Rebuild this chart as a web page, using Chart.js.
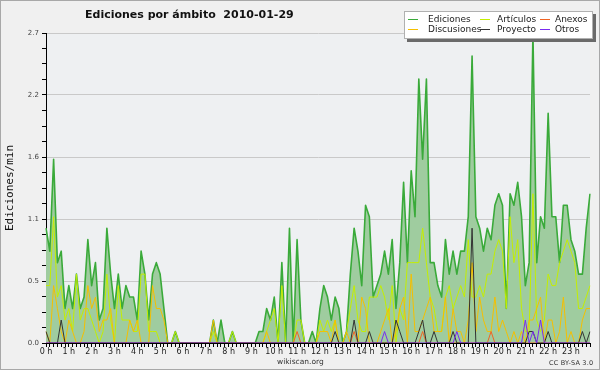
<!DOCTYPE html>
<html>
<head>
<meta charset="utf-8">
<script src="https://cdn.jsdelivr.net/npm/chart.js@4.4.0/dist/chart.umd.min.js"></script>
<style>
  html, body { margin: 0; padding: 0; background: #f0f0f0; }
  #wrap { position: relative; width: 600px; height: 370px; overflow: hidden; font-family: "DejaVu Sans", sans-serif; }
  #wrap canvas { position: absolute; left: 0; top: 0; }
  .txt { position: absolute; white-space: nowrap; color: #222; }
  #title { left: 85px; top: 9px; font-size: 11px; line-height: 11px; font-weight: bold; color: #111; }
  #site { left: 277px; top: 357.5px; font-size: 7.5px; line-height: 7.5px; color: #333; }
  #lic { left: 549px; top: 359.5px; font-size: 6.5px; line-height: 6.5px; letter-spacing: 0.2px; color: #333; }
  #legbox { position: absolute; left: 404px; top: 11px; width: 187px; height: 26px; background: #fff; border: 1px solid #b0b0b0; box-shadow: 3px 3px 0 #6a6a6a; }
  .leg { position: absolute; font-size: 9px; line-height: 9px; color: #222; white-space: nowrap; }
  .sw { position: absolute; width: 10px; height: 1px; }
  #frame { position: absolute; left: 0; top: 0; width: 600px; height: 370px; box-sizing: border-box; border: 1px solid #a8a8a8; pointer-events: none; }
</style>
</head>
<body>
<div id="wrap">
  <canvas id="chart" width="600" height="370"></canvas>
  <div class="txt" id="title">Ediciones por ámbito&nbsp;&nbsp;2010-01-29</div>
  <div id="legbox"></div>
  <div class="txt" id="site">wikiscan.org</div>
  <div class="txt" id="lic">CC BY-SA 3.0</div>
  <div id="frame"></div>
</div>
<script>
// valores por franja de 10 minutos (ediciones/min), 144 franjas = 24 h
const ediciones = [
  1.0,0.8,1.6,0.7,0.8,0.3,0.5,0.3,0.6,0.3,0.4,0.9,
  0.5,0.7,0.2,0.3,1.0,0.6,0.3,0.6,0.3,0.5,0.4,0.4,
  0.2,0.8,0.6,0.2,0.6,0.7,0.6,0.3,0,0,0.1,0,
  0,0,0,0,0,0,0,0,0.2,0,0.2,0,
  0,0.1,0,0,0,0,0,0,0.1,0.1,0.3,0.2,
  0.4,0,0.7,0,1.0,0,0.9,0.2,0,0,0.1,0,
  0.3,0.5,0.4,0.2,0.4,0.3,0,0.1,0.6,1.0,0.8,0.5,
  1.2,1.1,0.4,0.5,0.6,0.8,0.6,0.9,0.3,0.7,1.4,0.7,
  1.5,1.1,2.3,1.6,2.3,0.7,0.7,0.5,0.4,0.9,0.6,0.8,
  0.6,0.8,0.8,1.1,2.5,1.1,1.0,0.8,1.0,0.9,1.2,1.3,
  1.2,0.3,1.3,1.2,1.4,1.1,0.5,0.7,2.7,0.7,1.1,1.0,
  2.0,1.1,1.1,0.7,1.2,1.2,0.9,0.8,0.6,0.6,1.0,1.3
];
const articulos = [
  0.5,0.5,1.1,0.4,0.5,0.2,0.3,0.1,0.6,0.2,0.3,0.3,
  0.2,0.1,0,0.1,0.6,0.2,0,0.5,0.2,0.2,0.2,0.1,
  0.1,0.6,0.6,0.1,0.1,0.1,0,0,0,0,0.1,0,
  0,0,0,0,0,0,0,0,0.1,0,0,0,
  0,0.1,0,0,0,0,0,0,0,0,0.1,0.2,
  0.3,0,0.5,0,0,0,0.2,0.2,0,0,0,0,
  0.2,0.1,0.2,0.1,0.2,0,0,0.1,0.3,0.5,0.2,0.1,
  0.1,0.4,0.4,0.4,0.5,0.4,0.2,0.5,0,0.3,0.2,0.7,
  0.7,0.7,0.7,1.0,0.7,0.4,0.3,0.1,0.1,0.4,0.5,0.3,
  0.4,0.5,0.4,0.9,0.4,0.4,0.5,0.4,0.6,0.6,0.8,0.9,
  0.8,0.3,1.1,0.7,0.9,0.3,0.1,0.1,1.3,0.2,0.1,0.2,
  0.6,0.5,0.5,0.7,0.8,0.9,0.8,0.7,0.3,0.3,0.4,0.5
];
const discusiones = [
  0.1,0,0.5,0.3,0.1,0,0.2,0.1,0,0,0.1,0.5,
  0.3,0.4,0.1,0.2,0.2,0.3,0,0,0,0,0.2,0.1,
  0.2,0,0,0,0.5,0.3,0.3,0.2,0,0,0,0,
  0,0,0,0,0,0,0,0,0.2,0,0,0,
  0,0,0,0,0,0,0,0,0,0,0.1,0,
  0,0,0,0,0,0,0,0,0,0,0,0,
  0.1,0.1,0.1,0,0.2,0,0,0.1,0,0,0,0.4,
  0.3,0,0,0,0.1,0.2,0.3,0,0.1,0.3,0.4,0,
  0.6,0.1,0.1,0.2,0.3,0.4,0.1,0.1,0.1,0.4,0,0.3,
  0.1,0.1,0,0.2,0.7,0.1,0.4,0.2,0.1,0.1,0.4,0.1,
  0.2,0.1,0,0.1,0,0.1,0,0.2,0.2,0.3,0.4,0,
  0.2,0.2,0,0.1,0.4,0,0.1,0,0,0.2,0.3,0.3
];
const anexos = [
  0,0,0,0,0,0,0,0,0,0,0,0,
  0,0,0,0,0,0,0,0,0,0,0,0,
  0,0,0,0,0,0,0,0,0,0,0,0,
  0,0,0,0,0,0,0,0,0,0,0,0,
  0,0,0,0,0,0,0,0,0,0,0,0,
  0,0,0,0,0,0,0.1,0,0,0,0,0,
  0,0,0,0,0,0,0,0,0,0.1,0,0,
  0,0,0,0,0,0,0,0,0,0,0,0,
  0,0,0,0.1,0,0,0,0,0,0,0,0,
  0,0,0,0,0,0,0,0,0,0.1,0,0,
  0,0,0,0,0,0,0,0,0,0,0,0,
  0,0,0,0,0,0,0,0,0,0,0,0
];
const proyecto = [
  0.1,0,0,0,0.2,0,0,0,0,0,0,0,
  0,0,0,0,0,0,0,0,0,0,0,0,
  0,0,0,0,0,0,0,0,0,0,0,0,
  0,0,0,0,0,0,0,0,0,0,0,0,
  0,0,0,0,0,0,0,0,0,0,0,0,
  0,0,0,0,0,0,0,0,0,0,0,0,
  0,0,0,0,0.1,0,0,0,0,0.2,0,0,
  0,0.1,0,0,0,0,0,0,0.2,0.1,0,0,
  0,0,0.1,0.2,0,0,0.1,0,0,0,0,0.1,
  0,0,0,0,1.0,0,0,0,0,0,0,0,
  0,0,0,0,0,0,0,0.1,0.1,0,0,0,
  0.1,0,0,0,0,0,0,0,0,0.1,0,0.1
];
const otros = [
  0,0,0,0,0,0,0,0,0,0,0,0,
  0,0,0,0,0,0,0,0,0,0,0,0,
  0,0,0,0,0,0,0,0,0,0,0,0,
  0,0,0,0,0,0,0,0,0,0,0,0,
  0,0,0,0,0,0,0,0,0,0,0,0,
  0,0,0,0,0,0,0,0,0,0,0,0,
  0,0,0,0,0,0,0,0,0,0,0,0,
  0,0,0,0,0,0.1,0,0,0,0,0,0,
  0,0,0,0,0,0,0,0,0,0,0,0,
  0.1,0,0,0,0,0,0,0,0,0,0,0,
  0,0,0,0,0,0,0.2,0,0.1,0,0.2,0,
  0,0,0,0,0,0,0,0,0,0,0,0
];

// etiquetas del eje x: una por hora
const hourLabels = ["0 h","1 h","2 h","3 h","4 h","5 h","6 h","7 h","8 h","9 h","10 h","11 h",
  "12 h","13 h","14 h","15 h","16 h","17 h","18 h","19 h","20 h","21 h","22 h","23 h"];
const binsPerHour = 6;
// categorías: franjas de 10 min
const slots = [];
for (let h = 0; h < 24; h++) {
  for (let m = 0; m < 60; m += 10) slots.push(h + ":" + String(m).padStart(2, "0"));
}

// eje y: 0..2.7, etiqueta cada 4 marcas
const yTickValues = [0,0.135,0.27,0.405,0.54,0.675,0.81,0.945,1.08,1.215,1.35,1.485,
  1.62,1.755,1.89,2.025,2.16,2.295,2.43,2.565,2.7];
const yMax = 2.7;

const seriesNames = ["Ediciones", "Artículos", "Anexos", "Discusiones", "Proyecto", "Otros"];
const seriesColors = {
  "Ediciones": "#3aaa3a",
  "Artículos": "#c4ee00",
  "Anexos": "#f06424",
  "Discusiones": "#f5bf00",
  "Proyecto": "#333333",
  "Otros": "#7a2cf0"
};
const seriesData = {
  "Ediciones": ediciones,
  "Artículos": articulos,
  "Anexos": anexos,
  "Discusiones": discusiones,
  "Proyecto": proyecto,
  "Otros": otros
};
// orden de dibujo: mayor = más abajo
const drawOrder = { "Ediciones": 6, "Artículos": 5, "Discusiones": 4, "Anexos": 3, "Proyecto": 2, "Otros": 1 };

// leyenda html (3 columnas x 2 filas)
const legendPos = {
  "Ediciones":   { sx: 408, tx: 428, row: 0 },
  "Artículos":   { sx: 480, tx: 497, row: 0 },
  "Anexos":      { sx: 540, tx: 555, row: 0 },
  "Discusiones": { sx: 408, tx: 428, row: 1 },
  "Proyecto":    { sx: 480, tx: 497, row: 1 },
  "Otros":       { sx: 540, tx: 555, row: 1 }
};
const wrap = document.getElementById("wrap");
seriesNames.forEach(name => {
  const p = legendPos[name];
  const sw = document.createElement("div");
  sw.className = "sw";
  sw.style.left = p.sx + "px";
  sw.style.top = (18.5 + p.row * 10) + "px";
  sw.style.background = seriesColors[name];
  wrap.appendChild(sw);
  const t = document.createElement("div");
  t.className = "leg";
  t.textContent = name;
  t.style.left = p.tx + "px";
  t.style.top = (14.9 + p.row * 10) + "px";
  wrap.appendChild(t);
});

// fondo de la zona de trazado
const plotBg = {
  id: "plotBg",
  beforeDraw(chart) {
    const { ctx, chartArea: a } = chart;
    ctx.save();
    ctx.fillStyle = "#eef0f2";
    ctx.fillRect(a.left, a.top, a.right - a.left, a.bottom - a.top);
    ctx.restore();
  }
};

Chart.defaults.font.family = "'DejaVu Sans', sans-serif";

const datasets = seriesNames.map(name => ({
  label: name,
  data: seriesData[name],
  borderColor: seriesColors[name],
  backgroundColor: name === "Ediciones" ? "#9fcc9f" : seriesColors[name],
  borderWidth: name === "Ediciones" ? 1.6 : 1,
  fill: name === "Ediciones" ? "origin" : false,
  pointRadius: 0,
  tension: 0,
  borderJoinStyle: "round",
  order: drawOrder[name]
}));

new Chart(document.getElementById("chart"), {
  type: "line",
  data: { labels: slots, datasets: datasets },
  options: {
    responsive: false,
    animation: false,
    events: [],
    layout: { padding: { top: 33, right: 10, bottom: 0, left: 0 } },
    plugins: {
      legend: { display: false },
      tooltip: { enabled: false },
      title: { display: false }
    },
    scales: {
      x: {
        type: "category",
        offset: false,
        z: 1,
        afterFit(scale) { scale.height = 27; },
        grid: { drawOnChartArea: false, tickLength: 4, color: "#000", tickColor: "#000" },
        border: { display: true, color: "#000", width: 1 },
        ticks: {
          autoSkip: false,
          maxRotation: 0,
          minRotation: 0,
          padding: 0,
          color: "#222",
          font: { size: 8 },
          callback: (v, i) => (i % binsPerHour === 0 ? hourLabels[i / binsPerHour] : "")
        }
      },
      y: {
        min: 0,
        max: yMax,
        afterFit(scale) { scale.width = 46; },
        afterBuildTicks(scale) { scale.ticks = yTickValues.map(v => ({ value: v })); },
        grid: {
          color: c => (c.index % 4 === 0 && c.index > 0 ? "#c9c9c9" : "rgba(0,0,0,0)"),
          tickColor: "#000",
          tickLength: 4,
          lineWidth: 1
        },
        border: { display: true, color: "#000", width: 1 },
        ticks: {
          padding: 3,
          color: "#444",
          font: { size: 7 },
          callback: (v, i) => (i % 4 === 0 ? v.toFixed(1) : "")
        },
        title: {
          display: true,
          text: "Ediciones/min",
          color: "#111",
          font: { family: "'DejaVu Sans Mono', monospace", size: 11 },
          padding: { top: 4, bottom: 0 }
        }
      }
    }
  },
  plugins: [plotBg]
});
</script>
</body>
</html>
